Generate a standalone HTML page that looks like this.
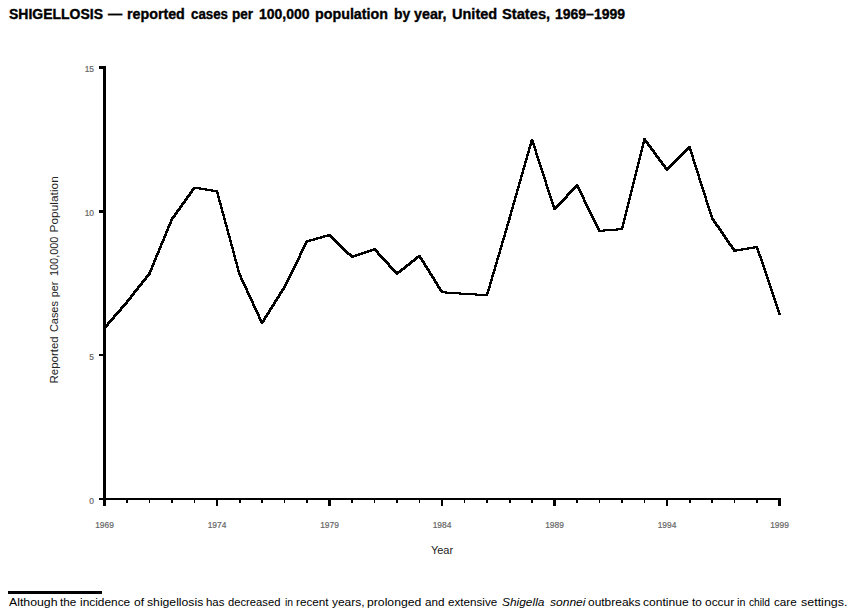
<!DOCTYPE html>
<html><head><meta charset="utf-8"><style>
html,body{margin:0;padding:0;background:#fff;}
body{width:860px;height:612px;overflow:hidden;position:relative;font-family:"Liberation Sans",sans-serif;}
#title{position:absolute;left:0;top:4.7px;width:860px;font-weight:bold;font-size:14.5px;line-height:18px;-webkit-text-stroke:0.35px #000;color:#000;white-space:nowrap;}
#foot{position:absolute;left:0;width:860px;top:595px;font-size:11px;line-height:14px;color:#000;white-space:nowrap;}
svg{position:absolute;left:0;top:0;}
</style></head><body>
<div id="title"><span style="position:absolute;left:9.40px;top:0;transform:scaleX(0.9641);transform-origin:0 0">SHIGELLOSIS</span><span style="position:absolute;left:108.30px;top:0;transform:scaleX(0.9793);transform-origin:0 0">—</span><span style="position:absolute;left:127.30px;top:0;transform:scaleX(0.9830);transform-origin:0 0">reported</span><span style="position:absolute;left:190.50px;top:0;transform:scaleX(0.9181);transform-origin:0 0">cases</span><span style="position:absolute;left:232.40px;top:0;transform:scaleX(0.9336);transform-origin:0 0">per</span><span style="position:absolute;left:259.00px;top:0;transform:scaleX(0.9618);transform-origin:0 0">100,000</span><span style="position:absolute;left:315.10px;top:0;transform:scaleX(0.9852);transform-origin:0 0">population</span><span style="position:absolute;left:394.00px;top:0;transform:scaleX(0.9586);transform-origin:0 0">by</span><span style="position:absolute;left:414.30px;top:0;transform:scaleX(0.9849);transform-origin:0 0">year,</span><span style="position:absolute;left:451.80px;top:0;transform:scaleX(1.0022);transform-origin:0 0">United</span><span style="position:absolute;left:502.30px;top:0;transform:scaleX(1.0126);transform-origin:0 0">States,</span><span style="position:absolute;left:555.30px;top:0;transform:scaleX(0.9642);transform-origin:0 0">1969–1999</span></div>
<svg width="860" height="612" viewBox="0 0 860 612">
<g font-family="Liberation Sans" font-size="8.4" fill="#666" stroke="#666" stroke-width="0.2">
<text x="94" y="71.6" text-anchor="end">15</text>
<text x="94" y="215.8" text-anchor="end">10</text>
<text x="94" y="359.8" text-anchor="end">5</text>
<text x="94" y="503.8" text-anchor="end">0</text>
<text x="104.5" y="528" text-anchor="middle">1969</text><text x="217.0" y="528" text-anchor="middle">1974</text><text x="329.5" y="528" text-anchor="middle">1979</text><text x="442.0" y="528" text-anchor="middle">1984</text><text x="554.5" y="528" text-anchor="middle">1989</text><text x="667.0" y="528" text-anchor="middle">1994</text><text x="779.5" y="528" text-anchor="middle">1999</text>
</g>
<text x="442" y="554" text-anchor="middle" font-family="Liberation Sans" font-size="11" fill="#222">Year</text>
<g transform="translate(58.2,0) rotate(-90)" font-family="Liberation Sans" font-size="11.6" fill="#222"><text transform="translate(-383.40,0) scale(0.9895,1)" x="-0.00">Reported</text><text transform="translate(-332.10,0) scale(0.9453,1)" x="-0.00">Cases</text><text transform="translate(-297.30,0) scale(0.9345,1)" x="-0.00">per</text><text transform="translate(-276.00,0) scale(0.9379,1)" x="-0.00">100,000</text><text transform="translate(-232.50,0) scale(1.0274,1)" x="-0.00">Population</text></g>
<g fill="#000" shape-rendering="crispEdges">
<rect x="103" y="66" width="3" height="440"/>
<rect x="99" y="66" width="4" height="3"/>
<rect x="99" y="210" width="4" height="3"/>
<rect x="99" y="354" width="4" height="2"/>
<rect x="99" y="498" width="682" height="2"/>
<rect x="126" y="498" width="2" height="5"/><rect x="149" y="498" width="1" height="5"/><rect x="171" y="498" width="2" height="5"/><rect x="194" y="498" width="1" height="5"/><rect x="216" y="498" width="2" height="8"/><rect x="239" y="498" width="2" height="5"/><rect x="261" y="498" width="2" height="5"/><rect x="284" y="498" width="1" height="5"/><rect x="306" y="498" width="2" height="5"/><rect x="328" y="498" width="3" height="8"/><rect x="351" y="498" width="2" height="5"/><rect x="374" y="498" width="1" height="5"/><rect x="396" y="498" width="2" height="5"/><rect x="419" y="498" width="1" height="5"/><rect x="441" y="498" width="2" height="8"/><rect x="464" y="498" width="1" height="5"/><rect x="486" y="498" width="2" height="5"/><rect x="509" y="498" width="2" height="5"/><rect x="531" y="498" width="2" height="5"/><rect x="553" y="498" width="3" height="8"/><rect x="576" y="498" width="2" height="5"/><rect x="599" y="498" width="1" height="5"/><rect x="621" y="498" width="2" height="5"/><rect x="644" y="498" width="1" height="5"/><rect x="666" y="498" width="2" height="8"/><rect x="689" y="498" width="2" height="5"/><rect x="711" y="498" width="2" height="5"/><rect x="734" y="498" width="1" height="5"/><rect x="756" y="498" width="2" height="5"/><rect x="778" y="498" width="3" height="8"/>
</g>
<g fill="#000" shape-rendering="crispEdges"><polygon points="103.5,327.0 126.0,301.0 128.0,301.0 128.0,303.0 105.5,329.0 103.5,329.0"/><polygon points="126.0,301.0 148.5,272.5 150.5,272.5 150.5,274.5 128.0,303.0 126.0,303.0"/><polygon points="148.5,272.5 171.0,218.0 173.0,218.0 173.0,220.0 150.5,274.5 148.5,274.5"/><polygon points="171.0,218.0 193.5,186.7 195.5,186.7 195.5,188.7 173.0,220.0 171.0,220.0"/><polygon points="193.5,186.7 195.5,186.7 218.0,190.3 218.0,192.3 216.0,192.3 193.5,188.7"/><polygon points="216.0,190.3 218.0,190.3 240.5,273.2 240.5,275.2 238.5,275.2 216.0,192.3"/><polygon points="238.5,273.2 240.5,273.2 263.0,322.0 263.0,324.0 261.0,324.0 238.5,275.2"/><polygon points="261.0,322.0 283.5,286.0 285.5,286.0 285.5,288.0 263.0,324.0 261.0,324.0"/><polygon points="283.5,286.0 306.0,240.3 308.0,240.3 308.0,242.3 285.5,288.0 283.5,288.0"/><polygon points="306.0,240.3 328.5,234.1 330.5,234.1 330.5,236.1 308.0,242.3 306.0,242.3"/><polygon points="328.5,234.1 330.5,234.1 353.0,255.9 353.0,257.9 351.0,257.9 328.5,236.1"/><polygon points="351.0,255.9 373.5,248.2 375.5,248.2 375.5,250.2 353.0,257.9 351.0,257.9"/><polygon points="373.5,248.2 375.5,248.2 398.0,272.7 398.0,274.7 396.0,274.7 373.5,250.2"/><polygon points="396.0,272.7 418.5,254.9 420.5,254.9 420.5,256.9 398.0,274.7 396.0,274.7"/><polygon points="418.5,254.9 420.5,254.9 443.0,291.2 443.0,293.2 441.0,293.2 418.5,256.9"/><polygon points="441.0,291.2 443.0,291.2 465.5,292.8 465.5,294.8 463.5,294.8 441.0,293.2"/><polygon points="463.5,292.8 465.5,292.8 488.0,294.2 488.0,296.2 486.0,296.2 463.5,294.8"/><polygon points="486.0,294.2 508.5,217.5 510.5,217.5 510.5,219.5 488.0,296.2 486.0,296.2"/><polygon points="508.5,217.5 531.0,138.5 533.0,138.5 533.0,140.5 510.5,219.5 508.5,219.5"/><polygon points="531.0,138.5 533.0,138.5 555.5,208.4 555.5,210.4 553.5,210.4 531.0,140.5"/><polygon points="553.5,208.4 576.0,184.3 578.0,184.3 578.0,186.3 555.5,210.4 553.5,210.4"/><polygon points="576.0,184.3 578.0,184.3 600.5,229.9 600.5,231.9 598.5,231.9 576.0,186.3"/><polygon points="598.5,229.9 621.0,228.1 623.0,228.1 623.0,230.1 600.5,231.9 598.5,231.9"/><polygon points="621.0,228.1 643.5,138.2 645.5,138.2 645.5,140.2 623.0,230.1 621.0,230.1"/><polygon points="643.5,138.2 645.5,138.2 668.0,168.9 668.0,170.9 666.0,170.9 643.5,140.2"/><polygon points="666.0,168.9 688.5,146.0 690.5,146.0 690.5,148.0 668.0,170.9 666.0,170.9"/><polygon points="688.5,146.0 690.5,146.0 713.0,217.0 713.0,219.0 711.0,219.0 688.5,148.0"/><polygon points="711.0,217.0 713.0,217.0 735.5,249.8 735.5,251.8 733.5,251.8 711.0,219.0"/><polygon points="733.5,249.8 756.0,246.0 758.0,246.0 758.0,248.0 735.5,251.8 733.5,251.8"/><polygon points="756.0,246.0 758.0,246.0 780.5,313.0 780.5,315.0 778.5,315.0 756.0,248.0"/></g>
<rect x="8" y="591" width="94" height="3" fill="#000" shape-rendering="crispEdges"/>
</svg>
<div id="foot"><span style="position:absolute;left:8.60px;top:0;transform:scaleX(1.1175);transform-origin:0 0">Although</span><span style="position:absolute;left:60.40px;top:0;transform:scaleX(1.0654);transform-origin:0 0">the</span><span style="position:absolute;left:80.20px;top:0;transform:scaleX(1.0796);transform-origin:0 0">incidence</span><span style="position:absolute;left:133.70px;top:0;transform:scaleX(1.0978);transform-origin:0 0">of</span><span style="position:absolute;left:146.50px;top:0;transform:scaleX(1.1085);transform-origin:0 0">shigellosis</span><span style="position:absolute;left:206.00px;top:0;transform:scaleX(1.0395);transform-origin:0 0">has</span><span style="position:absolute;left:227.60px;top:0;transform:scaleX(1.0195);transform-origin:0 0">decreased</span><span style="position:absolute;left:285.10px;top:0;transform:scaleX(0.9419);transform-origin:0 0">in</span><span style="position:absolute;left:296.20px;top:0;transform:scaleX(1.0621);transform-origin:0 0">recent</span><span style="position:absolute;left:332.00px;top:0;transform:scaleX(1.0867);transform-origin:0 0">years,</span><span style="position:absolute;left:367.30px;top:0;transform:scaleX(1.1104);transform-origin:0 0">prolonged</span><span style="position:absolute;left:424.80px;top:0;transform:scaleX(1.0652);transform-origin:0 0">and</span><span style="position:absolute;left:447.60px;top:0;transform:scaleX(1.0581);transform-origin:0 0">extensive</span><span style="position:absolute;left:501.50px;top:0;font-style:italic;transform:scaleX(1.0844);transform-origin:0 0">Shigella</span><span style="position:absolute;left:549.60px;top:0;font-style:italic;transform:scaleX(1.0948);transform-origin:0 0">sonnei</span><span style="position:absolute;left:587.80px;top:0;transform:scaleX(1.0870);transform-origin:0 0">outbreaks</span><span style="position:absolute;left:643.20px;top:0;transform:scaleX(1.0962);transform-origin:0 0">continue</span><span style="position:absolute;left:692.00px;top:0;transform:scaleX(1.0652);transform-origin:0 0">to</span><span style="position:absolute;left:705.20px;top:0;transform:scaleX(1.0855);transform-origin:0 0">occur</span><span style="position:absolute;left:737.20px;top:0;transform:scaleX(0.9767);transform-origin:0 0">in</span><span style="position:absolute;left:749.30px;top:0;transform:scaleX(0.9292);transform-origin:0 0">child</span><span style="position:absolute;left:774.00px;top:0;transform:scaleX(1.0607);transform-origin:0 0">care</span><span style="position:absolute;left:800.50px;top:0;transform:scaleX(1.1341);transform-origin:0 0">settings.</span></div>
</body></html>
